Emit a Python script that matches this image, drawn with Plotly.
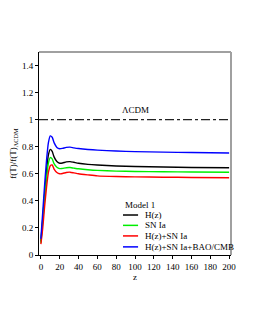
import plotly.graph_objects as go

z = [0, 2, 4, 6, 8, 10, 12, 14, 17, 20, 23, 27, 31, 35, 40, 50, 60, 80, 100, 130, 160, 200]
h_z = [0.10, 0.27, 0.45, 0.62, 0.74, 0.78, 0.765, 0.725, 0.69, 0.678, 0.68, 0.688, 0.69, 0.685, 0.678, 0.67, 0.665, 0.658, 0.654, 0.65, 0.647, 0.645]
sn_ia = [0.09, 0.25, 0.42, 0.57, 0.68, 0.72, 0.71, 0.675, 0.648, 0.638, 0.64, 0.645, 0.646, 0.642, 0.637, 0.63, 0.625, 0.62, 0.617, 0.615, 0.613, 0.612]
h_sn = [0.08, 0.20, 0.36, 0.50, 0.61, 0.66, 0.665, 0.635, 0.61, 0.60, 0.602, 0.61, 0.612, 0.607, 0.60, 0.592, 0.585, 0.58, 0.577, 0.575, 0.573, 0.571]
h_sn_bao = [0.12, 0.32, 0.52, 0.70, 0.83, 0.88, 0.87, 0.83, 0.795, 0.785, 0.788, 0.795, 0.797, 0.792, 0.787, 0.78, 0.775, 0.768, 0.764, 0.76, 0.757, 0.754]
lcdm_level = 1.0

names = ["H(z)", "SN Ia", "H(z)+SN Ia", "H(z)+SN Ia+BAO/CMB"]
colors = ["#000000", "#00ee00", "#ff0000", "#0000ff"]
series = [h_z, sn_ia, h_sn, h_sn_bao]

x_ticks = [0, 20, 40, 60, 80, 100, 120, 140, 160, 180, 200]
y_ticks = [0, 0.2, 0.4, 0.6, 0.8, 1.0, 1.2, 1.4]
y_labels = ["0", "0.2", "0.4", "0.6", "0.8", "1", "1.2", "1.4"]

font = "Liberation Serif, Times New Roman, serif"

fig = go.Figure()
for name, col, ys in zip(names, colors, series):
    fig.add_trace(go.Scatter(x=z, y=ys, mode="lines", name=name, showlegend=False,
                             line=dict(color=col, width=1.4, shape="spline", smoothing=0.6)))

fig.add_shape(type="line", xref="paper", yref="y", x0=0, x1=1, y0=lcdm_level, y1=lcdm_level,
              line=dict(color="#222222", width=1.2, dash="dashdot"))
# gray top and right frame
fig.add_shape(type="line", xref="paper", yref="paper", x0=0, x1=1, y0=1, y1=1,
              line=dict(color="#a0a0a0", width=2))
fig.add_shape(type="line", xref="paper", yref="paper", x0=1, x1=1, y0=0, y1=1,
              line=dict(color="#a0a0a0", width=2))

fig.add_annotation(x=0.5, xref="paper", y=1.075, yref="y", text="ΛCDM", showarrow=False,
                   font=dict(size=9, color="#000"), yanchor="middle")

# manual legend
fig.add_annotation(x=0.44, xref="paper", y=0.246, yref="paper", text="Model 1", showarrow=False,
                   xanchor="left", yanchor="middle", font=dict(size=9, color="#000"))
leg_y = [0.197, 0.146, 0.094, 0.04]
for name, col, ly in zip(names, colors, leg_y):
    fig.add_shape(type="line", xref="paper", yref="paper", x0=0.4375, x1=0.516, y0=ly, y1=ly,
                  line=dict(color=col, width=1.5))
    fig.add_annotation(x=0.542, xref="paper", y=ly, yref="paper", text=name, showarrow=False,
                       xanchor="left", yanchor="middle", font=dict(size=9, color="#000"))

fig.update_layout(
    width=255, height=330,
    margin=dict(l=31, r=32, t=44, b=83),
    paper_bgcolor="white", plot_bgcolor="white",
    font=dict(family=font, size=9, color="#000"),
    showlegend=False,
    xaxis=dict(range=[-2, 202], tickvals=x_ticks, showgrid=False, zeroline=False,
               showline=True, linecolor="#000", linewidth=1, tickangle=0, automargin=False,
               ticks="outside", ticklen=3, tickcolor="#000", tickfont=dict(size=9),
               title=dict(text="z", standoff=0, font=dict(size=9))),
    yaxis=dict(range=[0, 1.5], tickvals=y_ticks, ticktext=y_labels, showgrid=False, zeroline=False,
               showline=True, linecolor="#000", linewidth=1, automargin=False,
               ticks="outside", ticklen=3, tickcolor="#000", tickfont=dict(size=9),
               title=dict(text="f(T)/f(T)<sub>ΛCDM</sub>", standoff=4, font=dict(size=9))),
)

fig.write_html("out.html")
